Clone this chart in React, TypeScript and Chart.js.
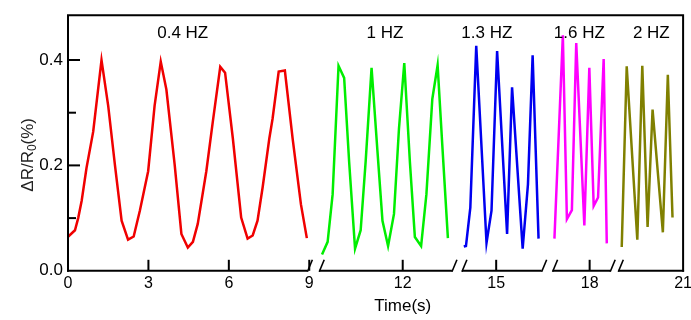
import React, { useEffect, useRef } from 'react';
import { Chart, registerables } from 'chart.js';

Chart.register(...registerables);

const FONT = '"Liberation Sans", Arial, Helvetica, sans-serif';

// 0.4 Hz (first axis segment, 0–9 s)
const redT = [0.01, 0.26, 0.38, 0.51, 0.69, 0.94, 1.25, 1.5, 1.75, 2.0, 2.24, 2.45, 2.68, 2.99, 3.23, 3.46, 3.67, 3.98, 4.23, 4.47, 4.66, 4.84, 5.16, 5.4, 5.68, 5.86, 6.15, 6.46, 6.7, 6.89, 7.07, 7.26, 7.51, 7.63, 7.86, 8.09, 8.38, 8.69, 8.91];
const redV = [0.065, 0.077, 0.1, 0.133, 0.195, 0.264, 0.4, 0.313, 0.201, 0.095, 0.059, 0.065, 0.114, 0.189, 0.313, 0.397, 0.344, 0.201, 0.07, 0.044, 0.055, 0.089, 0.189, 0.282, 0.387, 0.376, 0.251, 0.101, 0.061, 0.067, 0.095, 0.158, 0.251, 0.288, 0.378, 0.38, 0.251, 0.126, 0.062];

// 1 Hz
const greenT = [9.41, 9.59, 9.75, 9.94, 10.12, 10.28, 10.47, 10.65, 10.81, 11.0, 11.19, 11.35, 11.53, 11.72, 11.88, 12.05, 12.23, 12.39, 12.59, 12.76, 12.95, 13.12, 13.27, 13.45];
const greenV = [0.031, 0.055, 0.145, 0.389, 0.366, 0.207, 0.042, 0.077, 0.207, 0.385, 0.226, 0.095, 0.047, 0.108, 0.27, 0.394, 0.207, 0.064, 0.047, 0.145, 0.326, 0.39, 0.239, 0.062];

// 1.3 Hz
const blueT = [13.96, 14.03, 14.17, 14.36, 14.69, 14.85, 15.03, 15.35, 15.51, 15.85, 16.02, 16.17, 16.36];
const blueV = [0.046, 0.047, 0.12, 0.427, 0.053, 0.114, 0.417, 0.07, 0.348, 0.042, 0.164, 0.409, 0.061];

// 1.6 Hz
const magentaT = [16.87, 17.14, 17.27, 17.43, 17.57, 17.83, 17.99, 18.13, 18.27, 18.45, 18.55];
const magentaV = [0.061, 0.447, 0.098, 0.115, 0.432, 0.086, 0.385, 0.123, 0.139, 0.402, 0.052];

// 2 Hz
const oliveT = [19.03, 19.19, 19.53, 19.69, 19.86, 20.02, 20.35, 20.51, 20.66];
const oliveV = [0.045, 0.388, 0.059, 0.389, 0.083, 0.306, 0.073, 0.372, 0.101];

const freqLabels = ['0.4 HZ', '1 HZ', '1.3 HZ', '1.6 HZ', '2 HZ'];
const freqLabelT = [4.28, 11.43, 14.7, 17.67, 19.98];
const freqLabelV = 0.45;

// axis breaks (in seconds, on the second axis segment)
const axisBreaks = [[8.94, 9.32], [13.58, 13.9], [16.46, 16.81], [18.66, 18.92]];

const xTitle = 'Time(s)';

const toPts = (t: number[], v: number[]) => t.map((x, i) => ({ x, y: v[i] }));

const decorPlugin = {
  id: 'decor',
  afterDraw(chart: any) {
    const { ctx, chartArea: ca, scales } = chart;
    const xa = scales.xa;
    const xb = scales.xb;
    const ys = scales.y;
    const y0 = ca.bottom;
    ctx.save();
    ctx.strokeStyle = '#000';
    ctx.lineWidth = 2;
    ctx.lineCap = 'butt';
    // frame: left, top, right
    ctx.beginPath();
    ctx.moveTo(ca.left, ca.bottom + 1);
    ctx.lineTo(ca.left, ca.top);
    ctx.lineTo(ca.right, ca.top);
    ctx.lineTo(ca.right, ca.bottom + 1);
    ctx.stroke();

    // broken bottom axis
    const starts = [ca.left, ...axisBreaks.map((b) => xb.getPixelForValue(b[1]))];
    const ends = [...axisBreaks.map((b) => xb.getPixelForValue(b[0])), ca.right];
    for (let i = 0; i < starts.length; i++) {
      ctx.lineWidth = 2;
      ctx.beginPath();
      ctx.moveTo(starts[i] - (i === 0 ? 1 : 0), y0);
      ctx.lineTo(ends[i] + (i === starts.length - 1 ? 1 : 0), y0);
      ctx.stroke();
      ctx.lineWidth = 1.6;
      if (i > 0) {
        ctx.beginPath();
        ctx.moveTo(starts[i], y0 + 1);
        ctx.lineTo(starts[i] + 5, y0 - 11);
        ctx.stroke();
      }
      if (i < starts.length - 1) {
        ctx.beginPath();
        ctx.moveTo(ends[i], y0 + 1);
        ctx.lineTo(ends[i] + 5, y0 - 11);
        ctx.stroke();
      }
    }

    // inward tick marks
    ctx.lineWidth = 2;
    [xa, xb].forEach((sc: any) => {
      sc.ticks.forEach((t: any) => {
        const px = sc.getPixelForValue(t.value);
        if (px <= ca.left + 1 || px >= ca.right - 1) return;
        ctx.beginPath();
        ctx.moveTo(px, y0);
        ctx.lineTo(px, y0 - 11);
        ctx.stroke();
      });
    });
    ys.ticks.forEach((t: any) => {
      if (t.value <= 0.001) return;
      const py = ys.getPixelForValue(t.value);
      const len = Math.round(t.value * 10) % 2 === 0 ? 12 : 8;
      ctx.beginPath();
      ctx.moveTo(ca.left, py);
      ctx.lineTo(ca.left + len, py);
      ctx.stroke();
    });

    // frequency labels
    ctx.fillStyle = '#000';
    ctx.font = `17px ${FONT}`;
    ctx.textAlign = 'center';
    ctx.textBaseline = 'middle';
    freqLabels.forEach((lab, i) => {
      const sc = i === 0 ? xa : xb;
      ctx.fillText(lab, sc.getPixelForValue(freqLabelT[i]), ys.getPixelForValue(freqLabelV));
    });

    // x title
    ctx.fillText(xTitle, xb.getPixelForValue(12), ca.bottom + 36);

    // y title with subscript
    ctx.save();
    ctx.fillStyle = '#222';
    ctx.translate(27, ys.getPixelForValue(0.22));
    ctx.rotate(-Math.PI / 2);
    const big = `17px ${FONT}`;
    const small = `12px ${FONT}`;
    ctx.font = big;
    const w1 = ctx.measureText('ΔR/R').width;
    const w3 = ctx.measureText('(%)').width;
    ctx.font = small;
    const w2 = ctx.measureText('0').width;
    let x = -(w1 + w2 + w3) / 2;
    ctx.textAlign = 'left';
    ctx.textBaseline = 'alphabetic';
    const base = 6;
    ctx.font = big;
    ctx.fillText('ΔR/R', x, base);
    x += w1;
    ctx.font = small;
    ctx.fillText('0', x, base + 3);
    x += w2;
    ctx.font = big;
    ctx.fillText('(%)', x, base);
    ctx.restore();

    ctx.restore();
  },
};

export default function App() {
  const ref = useRef<HTMLCanvasElement | null>(null);

  useEffect(() => {
    if (!ref.current) return;
    const line = (data: any, color: string, axis: string, width = 2.5) => ({
      data,
      xAxisID: axis,
      yAxisID: 'y',
      borderColor: color,
      backgroundColor: color,
      borderWidth: width,
      pointRadius: 0,
      tension: 0,
      fill: false,
    });
    const tickFont = { size: 16, family: FONT };
    const chart = new Chart(ref.current, {
      type: 'line',
      data: {
        datasets: [
          line(toPts(redT, redV), '#f00000', 'xa'),
          line(toPts(greenT, greenV), '#00ee00', 'xb'),
          line(toPts(blueT, blueV), '#0000f0', 'xb'),
          line(toPts(magentaT, magentaV), '#ff00ff', 'xb'),
          line(toPts(oliveT, oliveV), '#808000', 'xb'),
        ] as any,
      },
      options: {
        animation: false,
        responsive: false,
        layout: { padding: { left: 0, top: 15, right: 10, bottom: 24 } },
        plugins: { legend: { display: false }, tooltip: { enabled: false } },
        scales: {
          xa: {
            type: 'linear',
            position: 'bottom',
            stack: 'x',
            stackWeight: 242,
            min: 0,
            max: 9,
            ticks: { stepSize: 3, padding: 3, maxRotation: 0, autoSkip: false, color: '#000', font: tickFont },
            grid: { display: false, drawTicks: false },
            border: { display: false },
          },
          xb: {
            type: 'linear',
            position: 'bottom',
            stack: 'x',
            stackWeight: 375,
            min: 9,
            max: 21,
            afterBuildTicks: (s: any) => {
              s.ticks = s.ticks.filter((t: any) => t.value !== 9);
            },
            ticks: { stepSize: 3, padding: 3, maxRotation: 0, autoSkip: false, color: '#000', font: tickFont },
            grid: { display: false, drawTicks: false },
            border: { display: false },
          },
          y: {
            type: 'linear',
            position: 'left',
            min: 0,
            max: 0.485,
            afterFit: (s: any) => {
              s.width = 68;
            },
            ticks: {
              stepSize: 0.1,
              includeBounds: false,
              padding: 5,
              color: '#000',
              font: { size: 17, family: FONT },
              callback: (v: any) => (Math.round(Number(v) * 10) % 2 === 0 ? Number(v).toFixed(1) : ''),
            },
            grid: { display: false, drawTicks: false },
            border: { display: false },
          },
        } as any,
      },
      plugins: [decorPlugin],
    });
    return () => chart.destroy();
  }, []);

  return (
    <div style={{ position: 'absolute', left: 0, top: 0, width: 691, height: 320, overflow: 'hidden', background: '#fff' }}>
      <canvas ref={ref} width={695} height={320} style={{ display: 'block' }} />
    </div>
  );
}
